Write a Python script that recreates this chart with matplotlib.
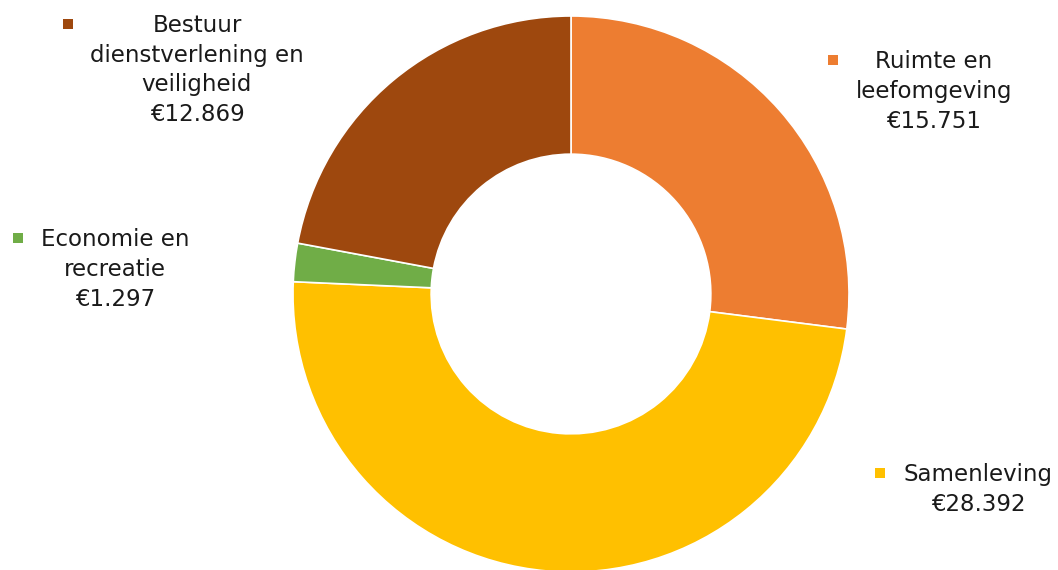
import matplotlib.pyplot as plt
from matplotlib.patches import Rectangle

plt.rcParams['font.family'] = ['DejaVu Sans']

# data, clockwise from the top
categories = ["Ruimte en\nleefomgeving", "Samenleving", "Economie en\nrecreatie",
              "Bestuur\ndienstverlening en\nveiligheid"]
values = [15751, 28392, 1297, 12869]
value_labels = ["€15.751", "€28.392", "€1.297", "€12.869"]
colors = ["#ED7D31", "#FFC000", "#70AD47", "#9E480E"]

W, H = 1058, 570
fig = plt.figure(figsize=(W / 100, H / 100), dpi=100)

# donut placed by pixel centre and radius
cx, cy, r = 571, 294, 278
ax = fig.add_axes([(cx - r) / W, (H - cy - r) / H, 2 * r / W, 2 * r / H])
ax.pie(values, colors=colors, startangle=90, counterclock=False,
       wedgeprops=dict(width=0.497, edgecolor="white", linewidth=1.2))
ax.set_xlim(-1, 1)
ax.set_ylim(-1, 1)
ax.set_aspect("equal")
ax.axis("off")

# label positions (pixel centre of first line) and marker positions
text_pos = [(934, 62), (978, 475), (115, 240), (197, 26)]
marker_pos = [(833, 60), (880, 473), (18, 238), (68, 24)]
line_h = 29.5

for cat, val, col, (tx, ty), (mx, my) in zip(categories, value_labels, colors,
                                               text_pos, marker_pos):
    lines = cat.split("\n") + [val]
    for i, line in enumerate(lines):
        fig.text(tx / W, 1 - (ty + i * line_h) / H, line, ha="center", va="center",
                 fontsize=16.5, color="#1a1a1a")
    s = 10
    fig.patches.append(Rectangle(((mx - s / 2) / W, 1 - (my + s / 2) / H), s / W, s / H,
                                 transform=fig.transFigure, facecolor=col,
                                 edgecolor="none"))

fig.savefig("out.png", dpi=100)
